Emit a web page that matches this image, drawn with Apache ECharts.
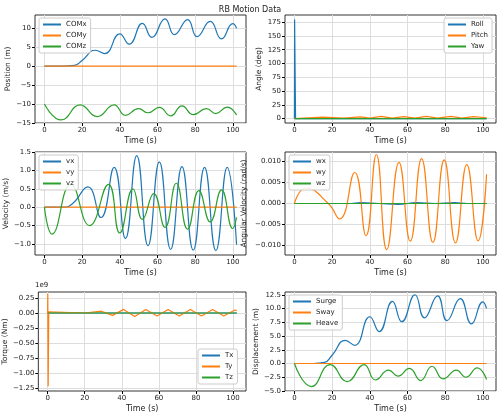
<!DOCTYPE html><html><head><meta charset="utf-8"><script src="https://cdn.jsdelivr.net/npm/echarts@6/dist/echarts.min.js"></script></head><body style="margin:0"><div id="c" style="width:500px;height:414px"></div><script>
const comX=[[0,0],[10,0],[16,0.2],[20,1.5],[27,4.2],[32,3.3],[40,8.5],[45,5.8],[52,11.3],[57,7.6],[64,12.5],[69,8.3],[76,12.3],[81,7.8],[88,11.8],[94,7.2],[100,11.2],[102,10]];
const comY=[[0,0],[102,0]];
const comZ=[[0,-10],[9,-14.2],[19,-10.2],[28,-13.3],[37,-10.2],[43,-13.0],[50,-11.2],[55,-12.3],[61,-10.9],[67,-13.1],[73,-10.5],[79,-12.8],[86,-11.2],[91,-12.5],[97,-10.8],[102,-12.9]];
const roll=[[0,0],[0.1,180],[0.5,180],[0.6,0],[102,0]];
const pitch=[[0,0],[15,2.5],[26,1],[35,3],[40,1],[46,4],[52,1],[58,3.5],[64,1],[70,4],[76,1],[83,4],[89,1],[95,3.5],[102,1.5]];
const yaw=[[0,0],[102,0]];
const vx=[[0,0],[10,0],[15,0.1],[23,0.55],[30,-0.28],[37,1.08],[43,-0.85],[49,1.4],[55,-1.05],[61,1.23],[67,-1.15],[73,1.1],[79,-1.17],[85,1.08],[91,-1.18],[97,1.08],[102,-1.02]];
const vy=[[0,0],[102,0]];
const vz=[[0,0],[4,-0.73],[14,0.62],[24,-0.5],[34,0.62],[40,-0.7],[47,0.5],[52,-0.33],[58,0.37],[64,-0.55],[70,0.65],[76,-0.6],[82,0.45],[88,-0.4],[94,0.47],[100,-0.58],[102,-0.28]];
const wx=[[0,0],[30,0],[35,0.0002],[45,0],[55,-0.0002],[65,0.0002],[75,0],[85,0.0002],[92,0],[102,0]];
const wy=[[0,0],[6,0.0037],[18,0.0],[24,-0.0037],[32,0.0074],[38,-0.0077],[43.5,0.0117],[49,-0.011],[55.5,0.0098],[61.5,-0.009],[67.5,0.0107],[73.5,-0.0093],[79.5,0.0104],[85.5,-0.0094],[91.5,0.0093],[97.5,-0.0089],[102,0.007]];
const wz=[[0,0],[102,0]];
const tx=[[0,0],[102,0]];
const ty=[[0,0],[0.1,0.32],[0.3,-1.22],[0.6,0.02],[20,0],[29,0.03],[35,-0.04],[41,0.06],[47,-0.06],[53,0.06],[59,-0.05],[65,0.06],[71,-0.05],[77,0.06],[83,-0.05],[89,0.06],[95,-0.05],[101,0.05],[102,0.04]];
const tz=[[0,0],[102,0]];
const surge=comX.slice();
const sway=[[0,0],[102,0]];
const heave=[[0,0],[9,-4.2],[19,-0.2],[28,-3.3],[37,-0.2],[43,-3.0],[50,-1.2],[55,-2.3],[61,-0.9],[67,-3.1],[73,-0.5],[79,-2.8],[86,-1.2],[91,-2.5],[97,-0.8],[102,-2.9]];
const xTicks=[0,20,40,60,80,100];
const C=['#1f77b4','#ff7f0e','#2ca02c'];
const panels=[
 {l:35,t:15,h:108,yname:'Position (m)',y:[-15,13.5,5],s:[['COMx',comX],['COMy',comY],['COMz',comZ]],leg:'tl',smooth:0.5,gap:20,fmt:v=>String(Math.round(v))},
 {l:285,t:15,h:108,yname:'Angle (deg)',y:[-8,188,25],s:[['Roll',roll],['Pitch',pitch],['Yaw',yaw]],leg:'tr',smooth:0,gap:22,fmt:v=>String(Math.round(v))},
 {l:35,t:152,h:103,yname:'Velocity (m/s)',y:[-1.3,1.5,0.5],s:[['vx',vx],['vy',vy],['vz',vz]],leg:'tl',smooth:0.5,gap:22,fmt:v=>v.toFixed(1)},
 {l:285,t:152,h:103,yname:'Angular Velocity (rad/s)',y:[-0.0123,0.0123,0.005],s:[['wx',wx],['wy',wy],['wz',wz]],leg:'tl',smooth:0.5,gap:37,fmt:v=>v.toFixed(3)},
 {l:35,t:292,h:101,yname:'Torque (Nm)',y:[-1.3,0.35,0.25],s:[['Tx',tx],['Ty',ty],['Tz',tz]],leg:'br',smooth:0,gap:27,fmt:v=>v.toFixed(2)},
 {l:285,t:292,h:101,yname:'Displacement (m)',y:[-5,13,2.5],s:[['Surge',surge],['Sway',sway],['Heave',heave]],leg:'tl',smooth:0.5,gap:25,fmt:v=>v.toFixed(1)}
];
const ff='DejaVu Sans';
const grid=[],xAxis=[],yAxis=[],series=[],legend=[];
panels.forEach((p,i)=>{
 grid.push({left:p.l,top:p.t,width:211,height:p.h,show:true,borderColor:'#000',borderWidth:0.8});
 xAxis.push({type:'value',gridIndex:i,min:-5,max:107,name:'Time (s)',nameLocation:'middle',nameGap:14,nameTextStyle:{fontSize:8,color:'#222',fontFamily:ff},
  axisLine:{show:false,onZero:false},axisTick:{show:true,length:3,customValues:xTicks,lineStyle:{color:'#000'}},
  axisLabel:{customValues:xTicks,fontSize:7,color:'#222',margin:4,fontFamily:ff},splitLine:{show:true,lineStyle:{color:'#ddd',width:1}}});
 const yi=p.y[2],ymin=p.y[0],ymax=p.y[1];const vals=[];
 for(let v=Math.ceil(ymin/yi-1e-9)*yi;v<=ymax+1e-9;v+=yi)vals.push(+v.toFixed(6));
 yAxis.push({type:'value',gridIndex:i,min:ymin,max:ymax,name:p.yname,nameLocation:'middle',nameGap:p.gap,nameTextStyle:{fontSize:7.5,color:'#222',fontFamily:ff},
  axisLine:{show:false,onZero:false},axisTick:{show:true,length:3,customValues:vals,lineStyle:{color:'#000'}},
  axisLabel:{customValues:vals,fontSize:7,color:'#222',margin:4,fontFamily:ff,formatter:v=>{const a=Math.abs(v)<1e-9?0:v;return p.fmt(a).replace('-','−');}},
  splitLine:{show:true,lineStyle:{color:'#ddd',width:1}}});
 p.s.forEach((s,k)=>series.push({name:s[0],type:'line',xAxisIndex:i,yAxisIndex:i,data:s[1],showSymbol:false,smooth:p.smooth,lineStyle:{width:1.2,color:C[k]},itemStyle:{color:C[k]}}));
 const pos=p.leg=='tl'?{left:p.l+4,top:p.t+3}:p.leg=='tr'?{left:p.l+211-52,top:p.t+3}:{left:p.l+211-48,top:p.t+p.h-44};
 legend.push(Object.assign({data:p.s.map(s=>s[0]),orient:'vertical',itemWidth:18,itemHeight:2,itemGap:4,icon:'rect',textStyle:{fontSize:7,color:'#222',fontFamily:ff},
  backgroundColor:'rgba(255,255,255,0.85)',borderColor:'#ccc',borderWidth:1,borderRadius:2,padding:[3,4]},pos));
});
const chart=echarts.init(document.getElementById('c'));
chart.setOption({animation:false,backgroundColor:'#fff',title:{text:'RB Motion Data',left:'center',top:1,textStyle:{fontSize:8,fontWeight:'normal',color:'#222',fontFamily:ff}},
 graphic:[{type:'text',left:35,top:282,style:{text:'1e9',fontSize:7,fill:'#222',fontFamily:ff}}],
 grid,xAxis,yAxis,series,legend});
</script></body></html>
